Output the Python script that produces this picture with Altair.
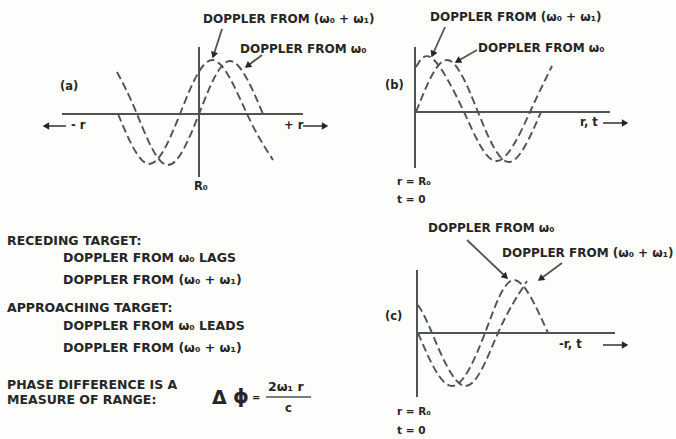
import math
import altair as alt
import pandas as pd

W, H = 676, 439
INK = "#262626"
LINE = "#4c564e"

# ---- dashed Doppler traces: start, zero crossings, extrema, end (canvas units) ----
a_sum_x = [118, 149, 180, 213, 247, 273]
a_sum_y = [114, 164, 114, 60, 114, 160]
a_base_x = [117, 137, 167, 199, 230, 263]
a_base_y = [72, 114, 165, 114, 61, 114]

b_sum_x = [416, 433, 464, 497, 530, 552]
b_sum_y = [67, 59, 112, 161, 112, 66]
b_base_x = [416, 447, 478, 509, 541]
b_base_y = [112, 60, 112, 162, 112]

c_base_x = [418, 452, 485, 514, 548]
c_base_y = [333, 386, 333, 280, 333]
c_sum_x = [418, 432, 465, 498, 527]
c_sum_y = [305, 333, 386, 333, 281]

traces = {
    "a_sum": (a_sum_x, a_sum_y), "a_base": (a_base_x, a_base_y),
    "b_sum": (b_sum_x, b_sum_y), "b_base": (b_base_x, b_base_y),
    "c_sum": (c_sum_x, c_sum_y), "c_base": (c_base_x, c_base_y),
}

# ---- coordinate axes of the three panels: x1, y1, x2, y2 ----
axis_lines = [
    (62, 114, 303, 114), (199, 47, 199, 177),      # (a)
    (415, 112, 610, 112), (415, 47, 415, 168),     # (b)
    (417, 333, 615, 333), (417, 270, 417, 397),    # (c)
]

# ---- arrows: tail (x, y) -> head (x, y) ----
arrows = [
    ((222, 29), (213, 57)), ((262, 55), (246, 67)),     # (a) leaders
    ((445, 27), (432, 56)), ((477, 50), (456, 62)),     # (b) leaders
    ((467, 240), (507, 278)), ((562, 263), (539, 280)), # (c) leaders
    ((66, 126), (44, 126)), ((303, 126), (327, 126)),   # (a) -r / +r
    ((603, 123), (627, 123)),                           # (b) r,t
    ((603, 345), (627, 345)),                           # (c) -r,t
]

# ---- text: label, left x, middle y, font size ----
SUM = "DOPPLER FROM (\u03c9\u2080 + \u03c9\u2081)"
BASE = "DOPPLER FROM \u03c9\u2080"
labels = [
    (SUM, 203, 19, 12), (BASE, 240, 49, 12),
    (SUM, 430, 17, 12), (BASE, 478, 48, 12),
    (BASE, 428, 228, 12), (SUM, 502, 253, 12),
    ("(a)", 60, 87, 11.5), ("(b)", 385, 86, 11.5), ("(c)", 385, 317, 11.5),
    ("- r", 71, 126, 11.5), ("+ r", 284, 126, 11.5),
    ("r, t", 580, 123, 11.5), ("-r, t", 559, 345, 11.5),
    ("R\u2080", 194, 187, 11.5),
    ("r = R\u2080", 397, 182, 10.5), ("t = 0", 397, 200, 10.5),
    ("r = R\u2080", 397, 412, 10.5), ("t = 0", 397, 431, 10.5),
    ("RECEDING TARGET:", 7, 241, 12.5),
    (BASE + " LAGS", 63, 258, 12.5),
    (SUM, 63, 280, 12.5),
    ("APPROACHING TARGET:", 7, 308, 12.5),
    (BASE + " LEADS", 63, 326, 12.5),
    (SUM, 63, 348, 12.5),
    ("PHASE DIFFERENCE IS A", 7, 385, 12.5),
    ("MEASURE OF RANGE:", 7, 400, 12.5),
    ("\u0394", 212, 398, 19),
    ("\u03d5", 233, 397, 20),
    ("=", 252, 398, 10),
    ("2\u03c9\u2081 r", 268, 387, 12.5),
    ("c", 285, 409, 11.5),
]
fraction_bar = (266, 397, 311, 397)

# ---- tables ----
curve_rows = []
for name, (xs, ys) in traces.items():
    for i, (x, y) in enumerate(zip(xs, ys)):
        curve_rows.append({"curve": name, "i": i, "x": x, "y": y})
curves = pd.DataFrame(curve_rows)

rules = pd.DataFrame(
    [{"x": a, "y": b, "x2": c, "y2": d, "w": 2.0} for a, b, c, d in axis_lines]
    + [{"x": t[0], "y": t[1], "x2": h[0], "y2": h[1], "w": 1.8} for t, h in arrows]
    + [{"x": fraction_bar[0], "y": fraction_bar[1], "x2": fraction_bar[2],
        "y2": fraction_bar[3], "w": 1.5}]
)

heads = []
for (tx, ty), (hx, hy) in arrows:
    dx, dy = hx - tx, hy - ty
    n = math.hypot(dx, dy)
    ang = math.degrees(math.atan2(dx, -dy)) % 360
    heads.append({"x": hx - 3 * dx / n, "y": hy - 3 * dy / n, "angle": ang})
heads = pd.DataFrame(heads)

texts = pd.DataFrame(labels, columns=["label", "x", "y", "fs"])

xs = alt.Scale(domain=[0, W])
ys = alt.Scale(domain=[0, H], reverse=True)

waves = alt.Chart(curves).mark_line(
    interpolate="natural", strokeDash=[8, 4], strokeWidth=1.9, color=LINE
).encode(
    x=alt.X("x:Q", scale=xs, axis=None),
    y=alt.Y("y:Q", scale=ys, axis=None),
    detail="curve:N",
    order="i:Q",
)

lines = alt.Chart(rules).mark_rule(color=LINE).encode(
    x=alt.X("x:Q", scale=xs, axis=None),
    y=alt.Y("y:Q", scale=ys, axis=None),
    x2="x2:Q",
    y2="y2:Q",
    strokeWidth=alt.StrokeWidth("w:Q", scale=None, legend=None),
)

tips = alt.Chart(heads).mark_point(
    shape="triangle", filled=True, opacity=1, color=INK, size=55
).encode(
    x=alt.X("x:Q", scale=xs, axis=None),
    y=alt.Y("y:Q", scale=ys, axis=None),
    angle=alt.Angle("angle:Q", scale=None),
)

words = alt.Chart(texts).mark_text(
    align="left", baseline="middle", font="DejaVu Sans", fontWeight="bold", color=INK
).encode(
    x=alt.X("x:Q", scale=xs, axis=None),
    y=alt.Y("y:Q", scale=ys, axis=None),
    text="label:N",
    size=alt.Size("fs:Q", scale=None, legend=None),
)

chart = alt.layer(waves, lines, tips, words).properties(
    width=W, height=H, autosize="none", padding=0, background="#fdfdfb"
).configure_view(stroke=None)

chart.save("out.html", embed_options={"renderer": "svg", "actions": False})
